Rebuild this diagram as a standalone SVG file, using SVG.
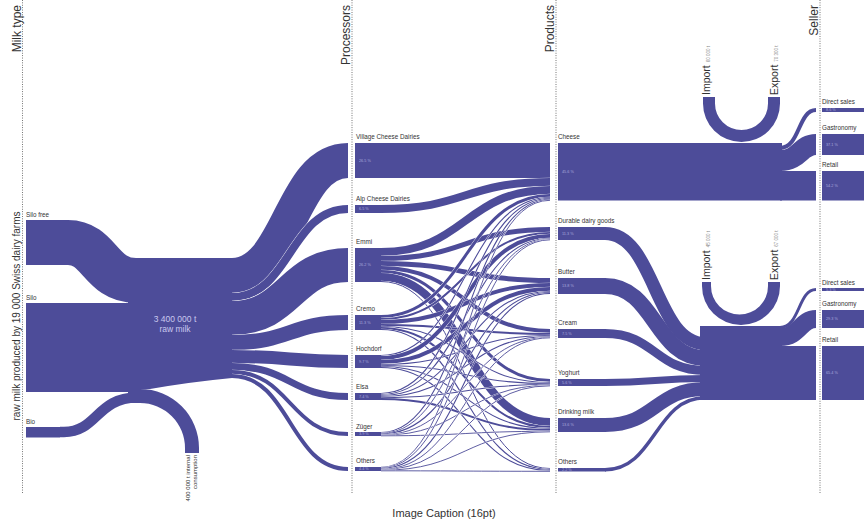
<svg xmlns="http://www.w3.org/2000/svg" width="864" height="522" viewBox="0 0 864 522">
<style>
.b{fill:#4d4c99}
.f{fill:none;stroke:#4d4c99}
.w{fill:none;stroke:#fff}
.ax{fill:none;stroke:#555;stroke-width:0.9;stroke-dasharray:0.9 1.5}
text{font-family:"Liberation Sans",Arial,sans-serif;fill:#333}
.l{font-size:6.3px}
.p{font-size:3.8px;fill:#a9a8dc}
.h{font-size:12px}
.s{font-size:4.5px;fill:#888}
.c{font-size:8.5px;fill:#c9c8ee;text-anchor:middle}
</style>
<rect width="864" height="522" fill="#fff"/>
<g id="axes">
<line class="ax" x1="22.5" y1="0" x2="22.5" y2="493"/>
<line class="ax" x1="352" y1="0" x2="352" y2="493"/>
<line class="ax" x1="556" y1="0" x2="556" y2="493"/>
<line class="ax" x1="820" y1="0" x2="820" y2="493"/>
<text class="h" text-anchor="end" transform="translate(20.5,5) rotate(-90)">Milk type</text>
<text class="h" text-anchor="end" transform="translate(350,5) rotate(-90)">Processors</text>
<text class="h" text-anchor="end" transform="translate(554,5) rotate(-90)">Products</text>
<text class="h" text-anchor="end" transform="translate(817.5,5) rotate(-90)">Seller</text>
<text font-size="10" text-anchor="middle" transform="translate(19.5,316) rotate(-90)">raw milk produced by 19 000 Swiss dairy farms</text>
</g>
<g id="connectors">
<path class="f" stroke-width="45" d="M60,242.5 H68 C100,242.5 100,280.5 136,280.5"/>
<rect class="b" x="60" y="303" width="76" height="89"/>
<path class="f" stroke-width="10.5" d="M60,432 H64 C97,432 97,397.5 137,397.5"/>
<path class="b" d="M128,258 H232 V378 Q190,382 150,389 H128 Z"/>
<path class="w" stroke-width="35.7" d="M232,275.5 C290,275.5 290,160.5 348,160.5"/><path class="f" stroke-width="35" d="M232,275.5 C290,275.5 290,160.5 348,160.5"/>
<path class="w" stroke-width="8.7" d="M232,297 C290,297 290,209 348,209"/><path class="f" stroke-width="8" d="M232,297 C290,297 290,209 348,209"/>
<path class="w" stroke-width="34.7" d="M232,318 C290,318 290,265 348,265"/><path class="f" stroke-width="34" d="M232,318 C290,318 290,265 348,265"/>
<path class="w" stroke-width="15.7" d="M232,342.5 C290,342.5 290,322.5 348,322.5"/><path class="f" stroke-width="15" d="M232,342.5 C290,342.5 290,322.5 348,322.5"/>
<path class="w" stroke-width="13.7" d="M232,356.5 C290,356.5 290,361.5 348,361.5"/><path class="f" stroke-width="13" d="M232,356.5 C290,356.5 290,361.5 348,361.5"/>
<path class="w" stroke-width="7.7" d="M232,366.5 C290,366.5 290,396.5 348,396.5"/><path class="f" stroke-width="7" d="M232,366.5 C290,366.5 290,396.5 348,396.5"/>
<path class="w" stroke-width="4.7" d="M232,372 C290,372 290,434 348,434"/><path class="f" stroke-width="4" d="M232,372 C290,372 290,434 348,434"/>
<path class="w" stroke-width="4.7" d="M232,376 C290,376 290,469 348,469"/><path class="f" stroke-width="4" d="M232,376 C290,376 290,469 348,469"/>

<path class="f" stroke-width="35" d="M381,160.5 H550"/>
<path class="w" stroke-width="8.7" d="M381,209 C465,209 465,182 550,182"/><path class="f" stroke-width="8" d="M381,209 C465,209 465,182 550,182"/>
<path class="w" stroke-width="8.7" d="M381,252 C465,252 465,190 550,190"/><path class="f" stroke-width="8" d="M381,252 C465,252 465,190 550,190"/>
<path class="w" stroke-width="5.7" d="M381,258.5 C465,258.5 465,229.5 550,229.5"/><path class="f" stroke-width="5" d="M381,258.5 C465,258.5 465,229.5 550,229.5"/>
<path class="w" stroke-width="5.7" d="M381,263.5 C465,263.5 465,280.5 550,280.5"/><path class="f" stroke-width="5" d="M381,263.5 C465,263.5 465,280.5 550,280.5"/>
<path class="w" stroke-width="4.7" d="M381,268 C465,268 465,331 550,331"/><path class="f" stroke-width="4" d="M381,268 C465,268 465,331 550,331"/>
<path class="w" stroke-width="3.7" d="M381,271.5 C465,271.5 465,380.5 550,380.5"/><path class="f" stroke-width="3" d="M381,271.5 C465,271.5 465,380.5 550,380.5"/>
<path class="w" stroke-width="8.7" d="M381,277 C465,277 465,422 550,422"/><path class="f" stroke-width="8" d="M381,277 C465,277 465,422 550,422"/>
<path class="w" stroke-width="1.7" d="M381,281.5 C465,281.5 465,468.5 550,468.5"/><path class="f" stroke-width="1" d="M381,281.5 C465,281.5 465,468.5 550,468.5"/>
<path class="w" stroke-width="3.7" d="M381,316.5 C465,316.5 465,195.5 550,195.5"/><path class="f" stroke-width="3" d="M381,316.5 C465,316.5 465,195.5 550,195.5"/>
<path class="w" stroke-width="2.7" d="M381,319 C465,319 465,233 550,233"/><path class="f" stroke-width="2" d="M381,319 C465,319 465,233 550,233"/>
<path class="w" stroke-width="4.7" d="M381,322 C465,322 465,285 550,285"/><path class="f" stroke-width="4" d="M381,322 C465,322 465,285 550,285"/>
<path class="w" stroke-width="2.7" d="M381,325 C465,325 465,334 550,334"/><path class="f" stroke-width="2" d="M381,325 C465,325 465,334 550,334"/>
<path class="w" stroke-width="1.7" d="M381,326.5 C465,326.5 465,382.5 550,382.5"/><path class="f" stroke-width="1.1" d="M381,326.5 C465,326.5 465,382.5 550,382.5"/>
<path class="w" stroke-width="2.7" d="M381,328 C465,328 465,427 550,427"/><path class="f" stroke-width="2" d="M381,328 C465,328 465,427 550,427"/>
<path class="w" stroke-width="1.7" d="M381,329.5 C465,329.5 465,469.5 550,469.5"/><path class="f" stroke-width="1.1" d="M381,329.5 C465,329.5 465,469.5 550,469.5"/>
<path class="w" stroke-width="1.7" d="M381,355.5 C465,355.5 465,197.5 550,197.5"/><path class="f" stroke-width="1.1" d="M381,355.5 C465,355.5 465,197.5 550,197.5"/>
<path class="w" stroke-width="4.7" d="M381,358 C465,358 465,236 550,236"/><path class="f" stroke-width="4" d="M381,358 C465,358 465,236 550,236"/>
<path class="w" stroke-width="4.7" d="M381,362 C465,362 465,289 550,289"/><path class="f" stroke-width="4" d="M381,362 C465,362 465,289 550,289"/>
<path class="w" stroke-width="1.7" d="M381,364.5 C465,364.5 465,335.5 550,335.5"/><path class="f" stroke-width="1.1" d="M381,364.5 C465,364.5 465,335.5 550,335.5"/>
<path class="w" stroke-width="1.7" d="M381,365.5 C465,365.5 465,383.5 550,383.5"/><path class="f" stroke-width="1.1" d="M381,365.5 C465,365.5 465,383.5 550,383.5"/>
<path class="w" stroke-width="1.7" d="M381,366.5 C465,366.5 465,428.5 550,428.5"/><path class="f" stroke-width="1.1" d="M381,366.5 C465,366.5 465,428.5 550,428.5"/>
<path class="w" stroke-width="1.7" d="M381,367.5 C465,367.5 465,470.5 550,470.5"/><path class="f" stroke-width="1.1" d="M381,367.5 C465,367.5 465,470.5 550,470.5"/>
<path class="w" stroke-width="1.7" d="M381,393.5 C465,393.5 465,198.5 550,198.5"/><path class="f" stroke-width="1.1" d="M381,393.5 C465,393.5 465,198.5 550,198.5"/>
<path class="w" stroke-width="1.7" d="M381,394.5 C465,394.5 465,238.5 550,238.5"/><path class="f" stroke-width="1.1" d="M381,394.5 C465,394.5 465,238.5 550,238.5"/>
<path class="w" stroke-width="1.7" d="M381,395.5 C465,395.5 465,291.5 550,291.5"/><path class="f" stroke-width="1.1" d="M381,395.5 C465,395.5 465,291.5 550,291.5"/>
<path class="w" stroke-width="1.7" d="M381,396.5 C465,396.5 465,336.5 550,336.5"/><path class="f" stroke-width="1.1" d="M381,396.5 C465,396.5 465,336.5 550,336.5"/>
<path class="w" stroke-width="1.7" d="M381,397.5 C465,397.5 465,384.5 550,384.5"/><path class="f" stroke-width="1.1" d="M381,397.5 C465,397.5 465,384.5 550,384.5"/>
<path class="w" stroke-width="2.7" d="M381,399 C465,399 465,430 550,430"/><path class="f" stroke-width="2" d="M381,399 C465,399 465,430 550,430"/>
<path class="w" stroke-width="1.7" d="M381,432.5 C465,432.5 465,199.5 550,199.5"/><path class="f" stroke-width="1.1" d="M381,432.5 C465,432.5 465,199.5 550,199.5"/>
<path class="w" stroke-width="1.5" d="M381,433.3 C465,433.3 465,239.3 550,239.3"/><path class="f" stroke-width="0.9" d="M381,433.3 C465,433.3 465,239.3 550,239.3"/>
<path class="w" stroke-width="1.7" d="M381,434 C465,434 465,292.5 550,292.5"/><path class="f" stroke-width="1.1" d="M381,434 C465,434 465,292.5 550,292.5"/>
<path class="w" stroke-width="1.5" d="M381,434.8 C465,434.8 465,337.3 550,337.3"/><path class="f" stroke-width="0.9" d="M381,434.8 C465,434.8 465,337.3 550,337.3"/>
<path class="w" stroke-width="1.5" d="M381,435.3 C465,435.3 465,385.3 550,385.3"/><path class="f" stroke-width="0.9" d="M381,435.3 C465,435.3 465,385.3 550,385.3"/>
<path class="w" stroke-width="1.5" d="M381,435.8 C465,435.8 465,431.3 550,431.3"/><path class="f" stroke-width="0.9" d="M381,435.8 C465,435.8 465,431.3 550,431.3"/>
<path class="w" stroke-width="1.5" d="M381,467.3 C465,467.3 465,200.3 550,200.3"/><path class="f" stroke-width="0.9" d="M381,467.3 C465,467.3 465,200.3 550,200.3"/>
<path class="w" stroke-width="1.5" d="M381,467.8 C465,467.8 465,239.8 550,239.8"/><path class="f" stroke-width="0.9" d="M381,467.8 C465,467.8 465,239.8 550,239.8"/>
<path class="w" stroke-width="1.7" d="M381,468.5 C465,468.5 465,293.5 550,293.5"/><path class="f" stroke-width="1.1" d="M381,468.5 C465,468.5 465,293.5 550,293.5"/>
<path class="w" stroke-width="1.5" d="M381,469.3 C465,469.3 465,337.8 550,337.8"/><path class="f" stroke-width="0.9" d="M381,469.3 C465,469.3 465,337.8 550,337.8"/>
<path class="w" stroke-width="1.5" d="M381,469.8 C465,469.8 465,385.8 550,385.8"/><path class="f" stroke-width="0.9" d="M381,469.8 C465,469.8 465,385.8 550,385.8"/>
<path class="w" stroke-width="1.5" d="M381,470.3 C465,470.3 465,431.8 550,431.8"/><path class="f" stroke-width="0.9" d="M381,470.3 C465,470.3 465,431.8 550,431.8"/>
<path class="w" stroke-width="1.5" d="M381,470.8 C465,470.8 465,471.3 550,471.3"/><path class="f" stroke-width="0.9" d="M381,470.8 C465,470.8 465,471.3 550,471.3"/>

<rect class="b" x="606" y="143" width="176" height="57.5"/>
<path class="f" stroke-width="13" d="M605,233.5 C655,233.5 655,343.5 705,343.5"/>
<path class="f" stroke-width="16" d="M605,286 C655,286 655,358 705,358"/>
<path class="f" stroke-width="9" d="M605,333.5 C655,333.5 655,370.5 705,370.5"/>
<path class="f" stroke-width="7" d="M605,382.5 C655,382.5 655,378.5 705,378.5"/>
<path class="f" stroke-width="14" d="M605,425 C655,425 655,389 705,389"/>
<path class="f" stroke-width="3.5" d="M605,469.75 C655,469.75 655,397.75 705,397.75"/>
<rect class="b" x="700" y="326" width="82" height="74"/>
<path class="f" stroke-width="4" d="M780,148 C800,148 798,110 816,110"/>
<path class="f" stroke-width="21" d="M780,160.5 C800,160.5 800,144.5 816,144.5"/>
<rect class="b" x="780" y="171" width="36" height="29.5"/>
<path class="f" stroke-width="3" d="M780,327.5 C800,327.5 798,289.5 816,289.5"/>
<path class="f" stroke-width="18" d="M780,337 C800,337 800,319 816,319"/>
<rect class="b" x="780" y="346" width="36" height="54"/>
</g>

<g id="silo-free"><rect class="b" x="26" y="220" width="34" height="45"/><text class="l" x="26" y="216.5">Silo free</text></g>
<g id="silo"><rect class="b" x="26" y="303" width="34" height="89"/><text class="l" x="26" y="299.5">Silo</text></g>
<g id="bio"><rect class="b" x="26" y="427" width="34" height="10.5"/><text class="l" x="26" y="423.5">Bio</text></g>
<g id="raw-milk"><text class="c" x="175" y="322">3 400 000 t</text><text class="c" x="175" y="332">raw milk</text></g>
<g id="internal-consumption">
<path class="b" d="M128,389 H140 A59,59 0 0 1 199,448 V453 H185 V448 A45,45 0 0 0 140,403 H128 Z"/>
<text font-size="6" text-anchor="end" transform="translate(189.5,455) rotate(-90)">400 000 t internal<tspan x="0" dy="7.5">consumption</tspan></text>
</g>

<g id="p-village"><rect class="b" x="355" y="143" width="26" height="35"/><text class="l" x="356" y="139">Village Cheese Dairies</text><text class="p" x="359" y="161.5">26.5 %</text></g>
<g id="p-alp"><rect class="b" x="355" y="205" width="26" height="8"/><text class="l" x="356" y="201">Alp Cheese Dairies</text><text class="p" x="359" y="210.3">6.5 %</text></g>
<g id="p-emmi"><rect class="b" x="355" y="248" width="26" height="34"/><text class="l" x="356" y="244">Emmi</text><text class="p" x="359" y="266.3">26.2 %</text></g>
<g id="p-cremo"><rect class="b" x="355" y="315" width="26" height="15"/><text class="l" x="356" y="311">Cremo</text><text class="p" x="359" y="323.8">11.3 %</text></g>
<g id="p-hochdorf"><rect class="b" x="355" y="355" width="26" height="13"/><text class="l" x="356" y="351">Hochdorf</text><text class="p" x="359" y="362.8">9.7 %</text></g>
<g id="p-elsa"><rect class="b" x="355" y="393" width="26" height="7"/><text class="l" x="356" y="389">Elsa</text><text class="p" x="359" y="397.8">7.4 %</text></g>
<g id="p-zuger"><rect class="b" x="355" y="432" width="26" height="4"/><text class="l" x="356" y="428.5">Züger</text><text class="p" x="359" y="435.3">3.9 %</text></g>
<g id="p-others"><rect class="b" x="355" y="467" width="26" height="4"/><text class="l" x="356" y="463">Others</text><text class="p" x="359" y="470.3">4.4 %</text></g>

<g id="pr-cheese"><rect class="b" x="558" y="143" width="48" height="57.5"/><text class="l" x="558" y="139">Cheese</text><text class="p" x="562" y="173">45.6 %</text></g>
<g id="pr-durable"><rect class="b" x="558" y="227" width="48" height="13"/><text class="l" x="558" y="223">Durable dairy goods</text><text class="p" x="562" y="234.8">11.3 %</text></g>
<g id="pr-butter"><rect class="b" x="558" y="278" width="48" height="16"/><text class="l" x="558" y="274">Butter</text><text class="p" x="562" y="287.3">13.8 %</text></g>
<g id="pr-cream"><rect class="b" x="558" y="329" width="48" height="9"/><text class="l" x="558" y="325">Cream</text><text class="p" x="562" y="334.8">7.5 %</text></g>
<g id="pr-yoghurt"><rect class="b" x="558" y="379" width="48" height="7"/><text class="l" x="558" y="375">Yoghurt</text><text class="p" x="562" y="383.8">5.6 %</text></g>
<g id="pr-drinking"><rect class="b" x="558" y="418" width="48" height="14"/><text class="l" x="558" y="414">Drinking milk</text><text class="p" x="562" y="426.3">13.6 %</text></g>
<g id="pr-others"><rect class="b" x="558" y="468" width="48" height="3.5"/><text class="l" x="558" y="464">Others</text><text class="p" x="562" y="471">2.2 %</text></g>

<g id="trade-top">
<path class="b" d="M703,97 V103.5 A38.5,38.5 0 0 0 780,103.5 V97 H768 V103.5 A26.5,26.5 0 0 1 715,103.5 V97 Z"/>
<text font-size="10.5" transform="translate(710,95) rotate(-90)">Import<tspan class="s" dx="3">60 000 t</tspan></text>
<text font-size="10.5" transform="translate(778,95) rotate(-90)">Export<tspan class="s" dx="3">70 300 t</tspan></text>
</g>
<g id="trade-bottom">
<path class="b" d="M702,282 V286 A39,39 0 0 0 780,286 V282 H768 V286 A28.5,28.5 0 0 1 711,286 V282 Z"/>
<text font-size="10.5" transform="translate(710,280) rotate(-90)">Import<tspan class="s" dx="3">45 000 t</tspan></text>
<text font-size="10.5" transform="translate(778,280) rotate(-90)">Export<tspan class="s" dx="3">67 000 t</tspan></text>
</g>

<g id="s-direct-1"><rect class="b" x="822" y="108" width="42" height="4"/><text class="l" x="822" y="104">Direct sales</text><text class="p" x="826" y="111.3" font-size="3">8.6 %</text></g>
<g id="s-gastro-1"><rect class="b" x="822" y="134" width="42" height="21"/><text class="l" x="822" y="130">Gastronomy</text><text class="p" x="826" y="145.8">37.1 %</text></g>
<g id="s-retail-1"><rect class="b" x="822" y="171" width="42" height="29.5"/><text class="l" x="822" y="167">Retail</text><text class="p" x="826" y="187">54.2 %</text></g>
<g id="s-direct-2"><rect class="b" x="822" y="288" width="42" height="3"/><text class="l" x="822" y="284.5">Direct sales</text><text class="p" x="826" y="290.6" font-size="2.6">5.3 %</text></g>
<g id="s-gastro-2"><rect class="b" x="822" y="310" width="42" height="18"/><text class="l" x="822" y="306">Gastronomy</text><text class="p" x="826" y="320.3">29.3 %</text></g>
<g id="s-retail-2"><rect class="b" x="822" y="346" width="42" height="54"/><text class="l" x="822" y="342">Retail</text><text class="p" x="826" y="374">65.4 %</text></g>

<text font-size="11" text-anchor="middle" x="444" y="517">Image Caption (16pt)</text>
</svg>
